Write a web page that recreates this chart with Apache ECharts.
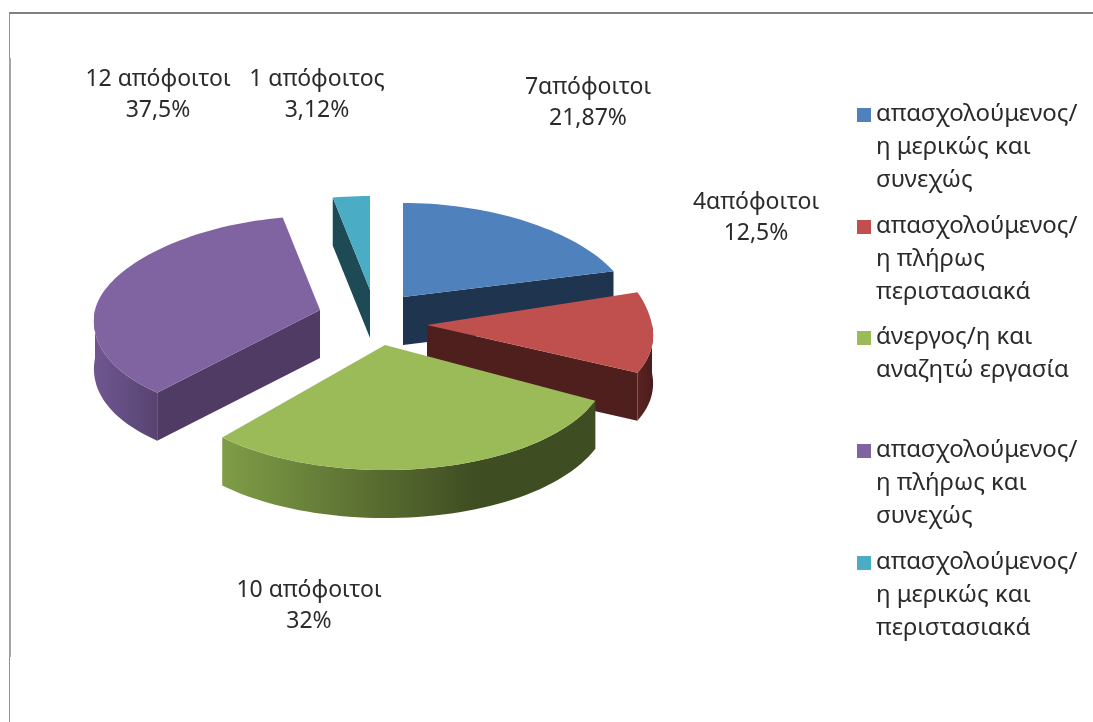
<!DOCTYPE html>
<html lang="el">
<head>
<meta charset="utf-8">
<style>html,body{margin:0;padding:0;background:#fff}#c{width:1093px;height:722px;filter:blur(0.6px)}</style>
<script src="https://cdn.jsdelivr.net/npm/echarts@6/dist/echarts.min.js"></script>
</head>
<body>
<div id="c"></div>
<script>
// ---- data ----
var categories = [
  'απασχολούμενος/\nη μερικώς και\nσυνεχώς',
  'απασχολούμενος/\nη πλήρως\nπεριστασιακά',
  'άνεργος/η και\nαναζητώ εργασία',
  'απασχολούμενος/\nη πλήρως και\nσυνεχώς',
  'απασχολούμενος/\nη μερικώς και\nπεριστασιακά'
];
var graduates = [7, 4, 10, 12, 1];
var sliceLabels = [
  '7απόφοιτοι\n21,87%',
  '4απόφοιτοι\n12,5%',
  '10 απόφοιτοι\n32%',
  '12 απόφοιτοι\n37,5%',
  '1 απόφοιτος\n3,12%'
];

// ---- styling and layout ----
var topColors  = ['#4F81BD', '#C0504D', '#9BBB59', '#8064A2', '#4BACC6'];
var faceColors = ['#1F344F', '#4F1F1E', '#3F4D22', '#4F3B63', '#1D4A55'];
var rimStops = [
  ['#2A4566', '#2A4566', '#1F344F'],
  ['#5A2422', '#4F1F1E', '#4A1D1C'],
  ['#7F9D47', '#3F4D22', '#3F4D22'],
  ['#6F5690', '#5F4A7C', '#574270'],
  ['#1D4A55', '#1D4A55', '#1D4A55']
];
var centers = [[403, 297], [427, 325], [385, 345], [320, 310], [370, 290]];
var backRy  = [94, 120, 94, 94, 94];
var frontRy = [125, 107, 125, 112, 125];
var labelPos = [[588, 103], [756, 218], [309, 606], [158, 95], [317, 95]];
var legendY = [115, 227, 338, 451, 563];
var RX = 225, PERSPECTIVE = 0.1, DEPTH = 48;
var FONT = '"Noto Sans", sans-serif';
var total = graduates.reduce(function (a, b) { return a + b; }, 0);

function pt(i, deg, dy) {
  var c = centers[i], r = deg * Math.PI / 180, co = Math.cos(r);
  return [
    c[0] + RX * (1 - PERSPECTIVE * co) * Math.sin(r),
    c[1] - (co > 0 ? backRy[i] : frontRy[i]) * co + (dy || 0)
  ];
}
function arc(i, a, b, dy) {
  var out = [], n = Math.max(2, Math.ceil((b - a) / 2));
  for (var k = 0; k <= n; k++) out.push(pt(i, a + (b - a) * k / n, dy));
  return out;
}
function renderSlice(params, api) {
  var i = params.dataIndex, c = centers[i], before = 0;
  for (var k = 0; k < i; k++) before += graduates[k];
  var a = before / total * 360, b = a + api.value(0) / total * 360;
  var kids = [];
  function poly(points, fill) {
    kids.push({ type: 'polygon', shape: { points: points }, style: { fill: fill } });
  }
  function face(deg) {
    var p = pt(i, deg);
    poly([c, p, [p[0], p[1] + DEPTH], [c[0], c[1] + DEPTH]], faceColors[i]);
  }
  if (Math.cos((a - 90) * Math.PI / 180) < -1e-6) face(a);
  if (Math.cos((b + 90) * Math.PI / 180) < -1e-6) face(b);
  var ra = Math.max(a, 90), rb = Math.min(b, 270);
  if (rb > ra) {
    var topEdge = arc(i, ra, rb), lowEdge = arc(i, ra, rb, DEPTH).reverse();
    var x0 = Math.min(pt(i, ra)[0], pt(i, rb)[0]), x1 = Math.max(pt(i, ra)[0], pt(i, rb)[0]);
    poly(topEdge.concat(lowEdge), {
      type: 'linear', x: x0, y: 0, x2: x1, y2: 0, global: true,
      colorStops: [
        { offset: 0, color: rimStops[i][0] },
        { offset: 0.68, color: rimStops[i][1] },
        { offset: 1, color: rimStops[i][2] }
      ]
    });
  }
  poly([c].concat(arc(i, a, b)), topColors[i]);
  return { type: 'group', children: kids };
}

var graphics = [
  { type: 'line', shape: { x1: 9, y1: 13, x2: 1093, y2: 13 }, style: { stroke: '#808080', lineWidth: 2 } },
  { type: 'line', shape: { x1: 9.5, y1: 13, x2: 9.5, y2: 722 }, style: { stroke: '#909090', lineWidth: 1 } },
  { type: 'rect', shape: { x: 9, y: 58, width: 2, height: 599 }, style: { fill: '#a4a4a4' } }
];
sliceLabels.forEach(function (t, i) {
  graphics.push({ type: 'text', x: labelPos[i][0], y: labelPos[i][1], style: {
    text: t, font: '23px ' + FONT, fill: '#2b2b2b', align: 'center', verticalAlign: 'middle', lineHeight: 31
  }});
});
categories.forEach(function (t, i) {
  graphics.push({ type: 'rect', shape: { x: 857, y: legendY[i] - 7, width: 14, height: 14 }, style: { fill: topColors[i] } });
  graphics.push({ type: 'text', x: 876, y: legendY[i] - 17, style: {
    text: t, font: '24px ' + FONT, fill: '#2b2b2b', align: 'left', verticalAlign: 'top', lineHeight: 33
  }});
});

var chart = echarts.init(document.getElementById('c'), null, { renderer: 'canvas' });
chart.setOption({
  animation: false,
  backgroundColor: '#fff',
  graphic: graphics,
  series: [{
    type: 'custom',
    coordinateSystem: 'none',
    renderItem: renderSlice,
    data: graduates.map(function (v, i) { return { name: categories[i], value: [v] }; })
  }]
});
</script>
</body>
</html>
